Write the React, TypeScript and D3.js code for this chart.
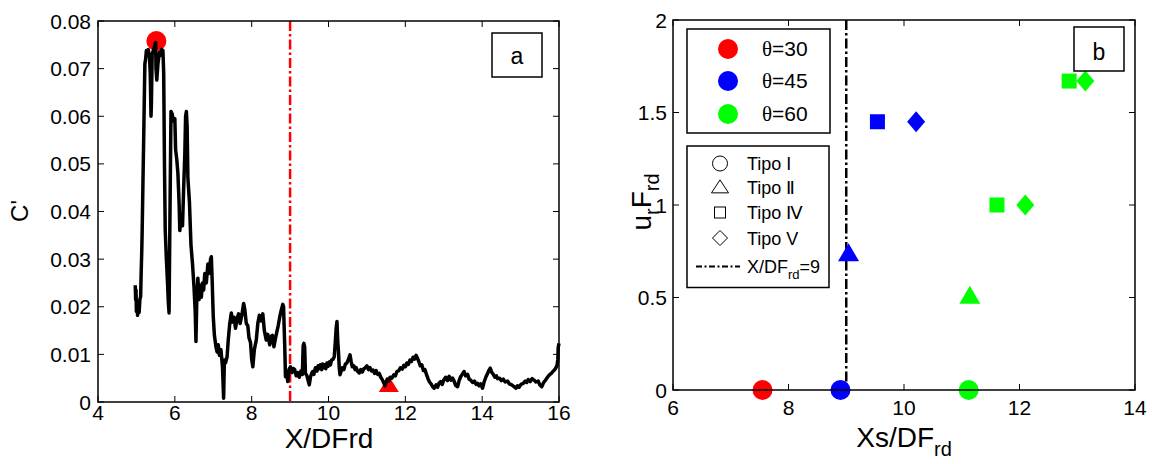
import React from "react";
import * as d3 from "d3";

// ---------- Panel a data ----------
const profile: [number, number][] = [
  [4.97,0.0245],[4.98,0.0215],[4.99,0.0235],[5.0,0.019],[5.02,0.0205],[5.03,0.0182],[5.05,0.021],[5.07,0.0188],[5.09,0.0215],[5.11,0.0222],[5.12,0.026],
  [5.14,0.032],[5.15,0.036],[5.17,0.046],[5.19,0.0557],[5.21,0.066],[5.22,0.071],[5.24,0.072],[5.26,0.0738],
  [5.29,0.0735],[5.31,0.074],[5.34,0.0725],[5.36,0.069],[5.38,0.06],[5.39,0.0625],[5.41,0.073],[5.44,0.0738],[5.47,0.0745],[5.5,0.0755],[5.51,0.07],[5.53,0.0676],[5.56,0.071],[5.6,0.0735],[5.63,0.0728],[5.66,0.074],[5.69,0.0738],[5.71,0.069],
  [5.73,0.05],[5.75,0.036],[5.78,0.03],[5.81,0.025],[5.83,0.021],[5.85,0.0187],[5.86,0.028],[5.88,0.045],[5.9,0.061],[5.93,0.0605],[5.96,0.059],[6.0,0.0595],[6.02,0.053],[6.05,0.051],[6.08,0.048],[6.11,0.042],[6.13,0.036],[6.16,0.039],[6.2,0.037],[6.23,0.045],[6.26,0.052],[6.28,0.06],[6.3,0.061],[6.32,0.058],[6.34,0.047],[6.38,0.042],[6.42,0.033],[6.46,0.029],[6.5,0.024],[6.53,0.019],[6.55,0.0127],[6.57,0.021],[6.6,0.026],[6.63,0.0215],[6.66,0.0245],[6.69,0.022],[6.72,0.025],[6.75,0.0235],[6.78,0.027],[6.82,0.025],[6.86,0.029],[6.89,0.027],[6.93,0.03],[6.95,0.0305],[6.97,0.026],
  [7.0,0.018],[7.03,0.014],[7.07,0.0116],[7.1,0.0105],[7.13,0.012],[7.16,0.0098],[7.2,0.011],[7.24,0.0074],[7.27,0.0008],[7.29,0.0088],[7.32,0.0082],[7.36,0.0095],[7.39,0.013],[7.43,0.0165],[7.47,0.0187],[7.5,0.0168],[7.54,0.0178],[7.58,0.0155],[7.62,0.0175],[7.66,0.0185],[7.7,0.0165],[7.75,0.0185],[7.79,0.0207],[7.82,0.0195],[7.86,0.0165],[7.9,0.016],[7.93,0.0135],[7.97,0.0125],
  [8.0,0.009],[8.03,0.0074],[8.07,0.011],[8.12,0.013],[8.16,0.0165],[8.2,0.0182],[8.25,0.017],[8.29,0.0185],[8.33,0.015],[8.38,0.013],[8.42,0.0142],[8.47,0.012],[8.51,0.0138],[8.54,0.014],[8.58,0.0116],[8.61,0.013],[8.65,0.0145],[8.69,0.016],[8.73,0.0178],[8.77,0.0193],[8.81,0.0205],[8.83,0.02],[8.86,0.012],[8.88,0.0053],[8.91,0.0062],[8.94,0.0043],[8.97,0.0068],
  [9.01,0.0074],[9.05,0.0062],[9.09,0.007],[9.12,0.0068],[9.16,0.0055],[9.2,0.0062],[9.24,0.0052],[9.28,0.0065],[9.32,0.0058],[9.34,0.0118],[9.36,0.0123],[9.38,0.0115],[9.4,0.006],[9.44,0.0055],[9.47,0.0045],[9.5,0.0036],[9.53,0.0052],[9.56,0.006],[9.59,0.0064],[9.62,0.0058],[9.66,0.0072],[9.7,0.0065],[9.73,0.0076],[9.76,0.007],[9.79,0.0078],[9.82,0.0068],[9.85,0.008],[9.88,0.0072],[9.91,0.0078],[9.93,0.007],[9.96,0.0082],[9.99,0.0075],
  [10.02,0.0084],[10.05,0.0078],[10.08,0.0088],[10.12,0.009],[10.15,0.0095],[10.18,0.013],[10.2,0.0155],[10.22,0.0169],[10.24,0.013],[10.26,0.0105],[10.28,0.0072],[10.3,0.0057],[10.33,0.0065],[10.36,0.0072],[10.4,0.0068],[10.44,0.008],[10.48,0.0082],[10.52,0.009],[10.56,0.0099],[10.59,0.0085],[10.62,0.0074],[10.66,0.0076],[10.69,0.0068],[10.72,0.0072],[10.76,0.0064],[10.8,0.0061],[10.84,0.0068],[10.88,0.0063],[10.92,0.007],[10.96,0.0072],
  [11.0,0.0076],[11.04,0.0068],[11.08,0.0072],[11.12,0.0065],[11.16,0.0067],[11.2,0.006],[11.24,0.0066],[11.28,0.0058],[11.32,0.006],[11.36,0.0052],[11.4,0.0047],[11.44,0.004],[11.47,0.0034],[11.5,0.0042],[11.53,0.0048],[11.57,0.0044],[11.61,0.0052],[11.65,0.005],[11.7,0.0057],[11.74,0.0055],[11.78,0.0064],[11.83,0.0066],[11.87,0.0072],[11.92,0.0069],[11.96,0.0077],
  [12.0,0.0074],[12.04,0.0082],[12.08,0.0079],[12.12,0.0088],[12.16,0.0085],[12.2,0.0094],[12.24,0.009],[12.28,0.0098],[12.31,0.0093],[12.35,0.0085],[12.39,0.0076],[12.43,0.0078],[12.47,0.0066],[12.51,0.0068],[12.55,0.0058],[12.59,0.0049],[12.63,0.0042],[12.67,0.0038],[12.71,0.0032],[12.75,0.0029],[12.8,0.0036],[12.84,0.0031],[12.88,0.004],[12.92,0.0043],[12.96,0.0037],
  [13.0,0.0046],[13.05,0.0052],[13.1,0.0045],[13.14,0.0054],[13.19,0.0046],[13.23,0.005],[13.27,0.0044],[13.31,0.0035],[13.36,0.0032],[13.4,0.0045],[13.44,0.0053],[13.48,0.0058],[13.53,0.0064],[13.57,0.0055],[13.62,0.0058],[13.66,0.0048],[13.7,0.0046],[13.75,0.0041],[13.8,0.0044],[13.84,0.0037],[13.88,0.0039],[13.92,0.0034],[13.96,0.0038],
  [14.01,0.0029],[14.05,0.0042],[14.1,0.0053],[14.14,0.006],[14.18,0.0067],[14.21,0.0071],[14.25,0.0062],[14.29,0.0058],[14.33,0.0052],[14.37,0.0055],[14.4,0.0049],[14.45,0.005],[14.5,0.0045],[14.55,0.0048],[14.6,0.0042],[14.66,0.0044],[14.71,0.0038],[14.77,0.0036],[14.82,0.0033],[14.88,0.0029],[14.92,0.0034],[14.96,0.0031],
  [15.01,0.0037],[15.07,0.0039],[15.12,0.0044],[15.16,0.0041],[15.2,0.0047],[15.25,0.0043],[15.3,0.0049],[15.35,0.0046],[15.4,0.0042],[15.46,0.0044],[15.5,0.0036],[15.55,0.0032],[15.6,0.0041],[15.65,0.0046],[15.71,0.0053],[15.75,0.0057],[15.8,0.006],[15.84,0.0064],[15.88,0.0067],[15.92,0.0072],[15.95,0.0077],[15.97,0.009],[15.98,0.0115],[16.0,0.0123],
];
const leftXTicks = [4, 6, 8, 10, 12, 14, 16];
const leftYTicks = [0, 0.01, 0.02, 0.03, 0.04, 0.05, 0.06, 0.07, 0.08];
const leftYTickLabels = ["0", "0.01", "0.02", "0.03", "0.04", "0.05", "0.06", "0.07", "0.08"];
const leftCircle: [number, number] = [5.52, 0.0758];
const leftTriangle: [number, number] = [11.57, 0.0036];
const leftThreshold = 9;

// ---------- Panel b data ----------
const rightXTicks = [6, 8, 10, 12, 14];
const rightYTicks = [0, 0.5, 1, 1.5, 2];
const rightYTickLabels = ["0", "0.5", "1", "1.5", "2"];
const thetaNames = ["θ=30", "θ=45", "θ=60"];
const thetaColors = ["#ff0000", "#0000ff", "#00ff00"];
// [x, y, theta index]
const tipoI: [number, number, number][] = [[7.55, 0, 0], [8.9, 0, 1], [11.12, 0, 2]];
const tipoII: [number, number, number][] = [[9.04, 0.74, 1], [11.14, 0.51, 2]];
const tipoIV: [number, number, number][] = [[9.54, 1.45, 1], [11.61, 1.0, 2], [12.86, 1.67, 2]];
const tipoV: [number, number, number][] = [[10.21, 1.45, 1], [12.1, 1.0, 2], [13.14, 1.67, 2]];
const tipoNames = ["Tipo I", "Tipo Ⅱ", "Tipo Ⅳ", "Tipo V"];
const rightThreshold = 9;

const FONT = "'Liberation Sans', Arial, Helvetica, sans-serif";

function triPath(cx: number, cy: number, w: number, h: number) {
  return `M${cx},${cy - h * 0.55} L${cx + w / 2},${cy + h * 0.45} L${cx - w / 2},${cy + h * 0.45} Z`;
}
function diamondPath(cx: number, cy: number, w: number, h: number) {
  return `M${cx},${cy - h / 2} L${cx + w / 2},${cy} L${cx},${cy + h / 2} L${cx - w / 2},${cy} Z`;
}

export default function App() {
  const xa = d3.scaleLinear().domain([4, 16]).range([98, 559]);
  const ya = d3.scaleLinear().domain([0, 0.08]).range([402, 21]);
  const lineA = d3.line<[number, number]>().x((d) => xa(d[0])).y((d) => ya(d[1]));

  const xb = d3.scaleLinear().domain([6, 14]).range([673, 1135]);
  const yb = d3.scaleLinear().domain([0, 2]).range([390, 20]);

  const tick = 6;
  const axisStroke = "#000";

  return (
    <svg width={1153} height={464} style={{ position: "absolute", left: 0, top: 0, background: "#fff" }} fontFamily={FONT}>
      <rect x={0} y={0} width={1153} height={464} fill="#fff" />

      {/* ===== Panel a ===== */}
      <g>
        {leftXTicks.map((t) => (
          <g key={"lx" + t}>
            <line x1={xa(t)} x2={xa(t)} y1={402} y2={402 - tick} stroke={axisStroke} strokeWidth={1} />
            <line x1={xa(t)} x2={xa(t)} y1={21} y2={21 + tick} stroke={axisStroke} strokeWidth={1} />
            <text x={xa(t)} y={420} fontSize={21} textAnchor="middle">{t}</text>
          </g>
        ))}
        {leftYTicks.map((t, i) => (
          <g key={"ly" + t}>
            <line x1={98} x2={98 + tick} y1={ya(t)} y2={ya(t)} stroke={axisStroke} strokeWidth={1} />
            <line x1={559} x2={559 - tick} y1={ya(t)} y2={ya(t)} stroke={axisStroke} strokeWidth={1} />
            <text x={91} y={ya(t)} dy="0.36em" fontSize={21} textAnchor="end">{leftYTickLabels[i]}</text>
          </g>
        ))}

        <line x1={xa(leftThreshold)} x2={xa(leftThreshold)} y1={ya(0.08)} y2={ya(0)} stroke="#ff0000" strokeWidth={2.5} strokeDasharray="10,3,2.5,3" />

        <circle cx={xa(leftCircle[0])} cy={ya(leftCircle[1])} r={10} fill="#ff0000" />
        <path d={triPath(xa(leftTriangle[0]), ya(leftTriangle[1]), 20, 16)} fill="#ff0000" />

        <path d={lineA(profile) || ""} fill="none" stroke="#000" strokeWidth={3.5} strokeLinejoin="round" />

        <rect x={98} y={21} width={559 - 98} height={402 - 21} fill="none" stroke={axisStroke} strokeWidth={1.5} />

        <rect x={492} y={33} width={50} height={44} fill="#fff" stroke="#000" strokeWidth={1.5} />
        <text x={517} y={64} fontSize={23} textAnchor="middle">a</text>

        <text x={329} y={448} fontSize={28} textAnchor="middle">X/DFrd</text>
        <text transform="translate(28,211) rotate(-90)" fontSize={24} textAnchor="middle">C'</text>
      </g>

      {/* ===== Panel b ===== */}
      <g>
        {rightXTicks.map((t) => (
          <g key={"rx" + t}>
            <line x1={xb(t)} x2={xb(t)} y1={390} y2={390 - tick} stroke={axisStroke} strokeWidth={1} />
            <line x1={xb(t)} x2={xb(t)} y1={20} y2={20 + tick} stroke={axisStroke} strokeWidth={1} />
            <text x={xb(t)} y={415} fontSize={21} textAnchor="middle">{t}</text>
          </g>
        ))}
        {rightYTicks.map((t, i) => (
          <g key={"ry" + t}>
            <line x1={673} x2={673 + tick} y1={yb(t)} y2={yb(t)} stroke={axisStroke} strokeWidth={1} />
            <line x1={1135} x2={1135 - tick} y1={yb(t)} y2={yb(t)} stroke={axisStroke} strokeWidth={1} />
            <text x={667} y={yb(t)} dy="0.36em" fontSize={21} textAnchor="end">{rightYTickLabels[i]}</text>
          </g>
        ))}

        <line x1={xb(rightThreshold)} x2={xb(rightThreshold)} y1={yb(2)} y2={yb(0)} stroke="#000" strokeWidth={2.5} strokeDasharray="10,3,2.5,3" />

        {tipoI.map((d, i) => (
          <circle key={"c" + i} cx={xb(d[0])} cy={yb(d[1])} r={10} fill={thetaColors[d[2]]} />
        ))}
        {tipoII.map((d, i) => (
          <path key={"t" + i} d={triPath(xb(d[0]), yb(d[1]), 21, 18)} fill={thetaColors[d[2]]} />
        ))}
        {tipoIV.map((d, i) => (
          <rect key={"s" + i} x={xb(d[0]) - 7.5} y={yb(d[1]) - 7.5} width={15} height={15} fill={thetaColors[d[2]]} />
        ))}
        {tipoV.map((d, i) => (
          <path key={"d" + i} d={diamondPath(xb(d[0]), yb(d[1]), 18, 21)} fill={thetaColors[d[2]]} />
        ))}

        <rect x={673} y={20} width={1135 - 673} height={390 - 20} fill="none" stroke={axisStroke} strokeWidth={1.5} />

        {/* legend 1 */}
        <rect x={687} y={29} width={143} height={104} fill="#fff" stroke="#000" strokeWidth={1.5} />
        {thetaNames.map((n, i) => {
          const cy = [49, 81, 114][i];
          return (
            <g key={"lg1" + i}>
              <circle cx={728} cy={cy} r={10} fill={thetaColors[i]} />
              <text x={762} y={cy + 7} fontSize={21}>
                <tspan fontFamily="'Liberation Serif', 'Times New Roman', serif">{n.slice(0, 1)}</tspan>
                <tspan>{n.slice(1)}</tspan>
              </text>
            </g>
          );
        })}

        {/* legend 2 */}
        <rect x={687} y={146} width={142} height={141.5} fill="#fff" stroke="#000" strokeWidth={1.5} />
        {tipoNames.map((n, i) => {
          const cy = [163.5, 187, 212.5, 238][i];
          const cx = 720;
          let sym: React.ReactNode = null;
          if (i === 0) sym = <circle cx={cx} cy={cy} r={7.5} fill="none" stroke="#000" strokeWidth={1} />;
          if (i === 1) sym = <path d={triPath(cx, cy, 17, 13)} fill="none" stroke="#000" strokeWidth={1} />;
          if (i === 2) sym = <rect x={cx - 5.5} y={cy - 5.5} width={11} height={11} fill="none" stroke="#000" strokeWidth={1} />;
          if (i === 3) sym = <path d={diamondPath(cx, cy, 15, 15)} fill="none" stroke="#000" strokeWidth={1} />;
          return (
            <g key={"lg2" + i}>
              {sym}
              <text x={747} y={cy + 6.5} fontSize={18}>{n}</text>
            </g>
          );
        })}
        <line x1={696} x2={740} y1={266.5} y2={266.5} stroke="#000" strokeWidth={2} strokeDasharray="6,2.5,2,2.5" />
        <text x={747} y={273} fontSize={18}>
          X/DF<tspan fontSize={13} dy={6}>rd</tspan><tspan dy={-6}>=9</tspan>
        </text>

        {/* label box b */}
        <rect x={1074} y={27} width={50} height={44} fill="#fff" stroke="#000" strokeWidth={1.5} />
        <text x={1099} y={60} fontSize={23} textAnchor="middle">b</text>

        {/* axis labels */}
        <text x={904} y={447} fontSize={28} textAnchor="middle">
          Xs/DF<tspan fontSize={20} dy={9}>rd</tspan>
        </text>
        <text transform="translate(651,202) rotate(-90)" fontSize={28} textAnchor="middle">
          u<tspan fontSize={20} dy={8}>r</tspan><tspan dy={-8}>F</tspan><tspan fontSize={20} dy={8}>rd</tspan>
        </text>
      </g>
    </svg>
  );
}
